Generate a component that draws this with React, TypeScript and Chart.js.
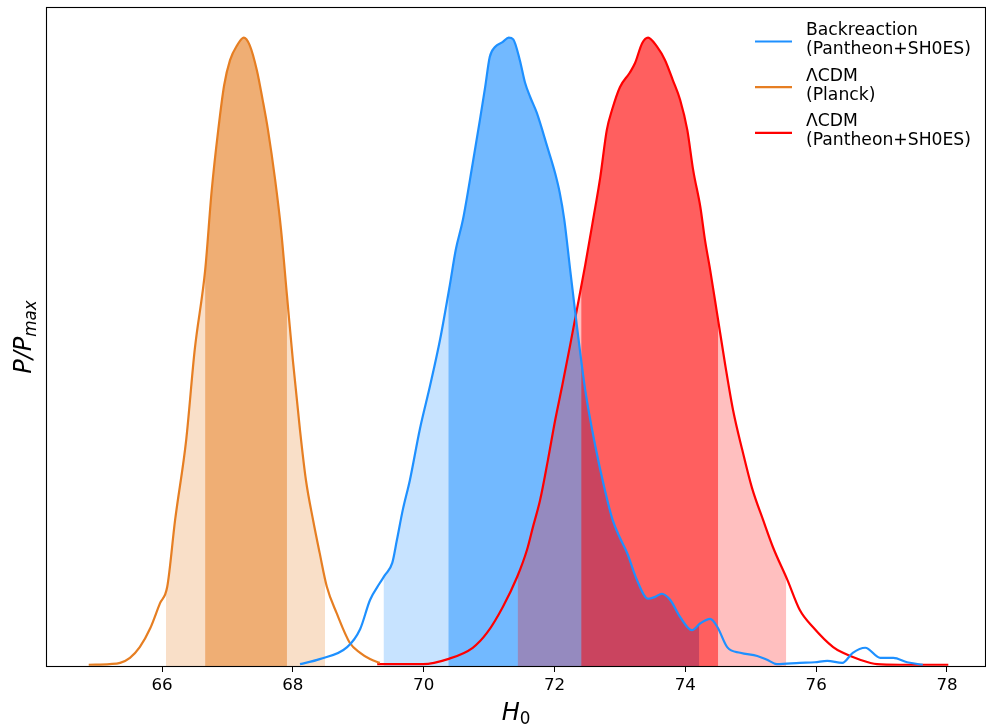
import React, { useEffect, useRef } from 'react';
import { Chart, registerables } from 'chart.js';

Chart.register(...registerables);

// ---------------- data ----------------
const xTicks = [66, 68, 70, 72, 74, 76, 78];
const X_MIN = 64.242;
const X_MAX = 78.581;
const Y_MAX = 1.047;

const orangeX = [64.88, 65.2, 65.36, 65.51, 65.66, 65.82, 65.97, 66.08, 66.2, 66.37, 66.5, 66.66, 66.76, 66.86, 66.95, 67.04, 67.15, 67.25, 67.34, 67.45, 67.54, 67.62, 67.73, 67.82, 67.91, 68.0, 68.11, 68.2, 68.31, 68.41, 68.52, 68.67, 68.87, 69.03, 69.18, 69.33];
const orangeY = [0.002, 0.003, 0.005, 0.013, 0.03, 0.06, 0.1, 0.126, 0.232, 0.36, 0.503, 0.63, 0.757, 0.853, 0.924, 0.964, 0.988, 1.0, 0.988, 0.948, 0.9, 0.853, 0.773, 0.694, 0.59, 0.487, 0.375, 0.296, 0.232, 0.18, 0.126, 0.084, 0.037, 0.021, 0.011, 0.005];

const blueX = [68.11, 68.41, 68.83, 69.03, 69.18, 69.33, 69.41, 69.52, 69.59, 69.68, 69.79, 69.94, 70.1, 70.25, 70.4, 70.49, 70.6, 70.75, 70.86, 70.94, 71.01, 71.09, 71.21, 71.3, 71.37, 71.47, 71.55, 71.63, 71.73, 71.89, 72.01, 72.08, 72.15, 72.24, 72.34, 72.47, 72.62, 72.77, 72.89, 73.0, 73.11, 73.26, 73.43, 73.54, 73.64, 73.77, 73.92, 74.1, 74.23, 74.38, 74.49, 74.64, 74.84, 75.1, 75.25, 75.4, 75.75, 75.98, 76.17, 76.4, 76.56, 76.75, 76.98, 77.18, 77.39, 77.63];
const blueY = [0.003, 0.011, 0.03, 0.059, 0.105, 0.132, 0.145, 0.164, 0.2, 0.248, 0.296, 0.376, 0.447, 0.519, 0.606, 0.662, 0.71, 0.8, 0.869, 0.921, 0.969, 0.985, 0.993, 1.0, 0.997, 0.964, 0.928, 0.905, 0.88, 0.826, 0.784, 0.753, 0.71, 0.63, 0.543, 0.439, 0.352, 0.28, 0.232, 0.204, 0.18, 0.137, 0.107, 0.11, 0.115, 0.105, 0.078, 0.057, 0.068, 0.075, 0.062, 0.03, 0.021, 0.016, 0.01, 0.003, 0.005, 0.006, 0.008, 0.005, 0.021, 0.029, 0.013, 0.013, 0.006, 0.002];

const redX = [69.29, 69.64, 69.99, 70.37, 70.75, 70.97, 71.21, 71.43, 71.58, 71.67, 71.78, 71.9, 72.01, 72.12, 72.24, 72.34, 72.47, 72.59, 72.7, 72.8, 72.88, 73.0, 73.15, 73.23, 73.34, 73.43, 73.57, 73.69, 73.81, 73.92, 74.03, 74.12, 74.23, 74.3, 74.38, 74.49, 74.61, 74.73, 74.87, 75.02, 75.19, 75.34, 75.56, 75.75, 75.95, 76.26, 76.41, 76.67, 76.93, 77.28, 78.02];
const redY = [0.003, 0.003, 0.003, 0.011, 0.029, 0.053, 0.094, 0.142, 0.185, 0.221, 0.264, 0.328, 0.391, 0.447, 0.511, 0.566, 0.638, 0.71, 0.778, 0.853, 0.885, 0.921, 0.944, 0.959, 0.991, 1.0, 0.985, 0.964, 0.932, 0.901, 0.853, 0.789, 0.73, 0.678, 0.63, 0.558, 0.479, 0.407, 0.344, 0.283, 0.232, 0.189, 0.137, 0.089, 0.062, 0.03, 0.021, 0.01, 0.003, 0.002, 0.002];

// shaded intervals: [outer (light), inner (dark)]
const blueOuter = [69.39, 74.21];
const blueInner = [70.38, 74.21];
const orangeOuter = [66.06, 68.49];
const orangeInner = [66.66, 67.91];
const redOuter = [71.44, 75.54];
const redInner = [72.41, 74.5];

const legendLabels = [
  ['Backreaction', '(Pantheon+SH0ES)'],
  ['\u039bCDM', '(Planck)'],
  ['\u039bCDM', '(Pantheon+SH0ES)'],
];
const xTitle = { main: 'H', sub: '0' };
const yTitle = { main: 'P/P', sub: 'max' };

const BLUE = [30, 144, 255];
const ORANGE = [230, 126, 34];
const RED = [255, 0, 0];

const rgba = (c: number[], a: number) => `rgba(${c[0]},${c[1]},${c[2]},${a})`;

function makeDataset(xs: number[], ys: number[], col: number[], outer: number[], inner: number[]) {
  return {
    data: xs.map((x, k) => ({ x, y: ys[k] })),
    borderColor: rgba(col, 1),
    borderWidth: 2.2,
    pointRadius: 0,
    fill: false,
    cubicInterpolationMode: 'monotone',
    bands: [
      { from: outer[0], to: outer[1], color: rgba(col, 0.25) },
      { from: inner[0], to: inner[1], color: rgba(col, 0.5) },
    ],
    legendColor: rgba(col, 1),
  } as any;
}

const FONT = '"DejaVu Sans", sans-serif';

const bandsPlugin = {
  id: 'bands',
  beforeDatasetsDraw(chart: any) {
    const { ctx, chartArea, scales } = chart;
    const xs = scales.x;
    const ys = scales.y;
    const y0 = ys.getPixelForValue(0);
    chart.data.datasets.forEach((ds: any, i: number) => {
      if (!ds.bands) return;
      const meta = chart.getDatasetMeta(i);
      const line = meta.dataset;
      const pts = meta.data;
      if (!pts || !pts.length) return;
      ds.bands.forEach((b: any) => {
        const xa = xs.getPixelForValue(b.from);
        const xb = xs.getPixelForValue(b.to);
        ctx.save();
        ctx.beginPath();
        ctx.rect(xa, chartArea.top, xb - xa, y0 - chartArea.top);
        ctx.clip();
        ctx.beginPath();
        if (line && typeof line.path === 'function') {
          line.path(ctx);
        } else {
          pts.forEach((p: any, k: number) => (k ? ctx.lineTo(p.x, p.y) : ctx.moveTo(p.x, p.y)));
        }
        ctx.lineTo(pts[pts.length - 1].x, y0);
        ctx.lineTo(pts[0].x, y0);
        ctx.closePath();
        ctx.fillStyle = b.color;
        ctx.fill();
        ctx.restore();
      });
    });
  },
};

const decorPlugin = {
  id: 'decor',
  afterDraw(chart: any) {
    const { ctx, chartArea } = chart;
    const { left, right, top, bottom } = chartArea;
    ctx.save();
    // frame
    ctx.strokeStyle = '#000';
    ctx.lineWidth = 1.1;
    ctx.strokeRect(Math.round(left) - 0.5, Math.round(top) - 0.5, Math.round(right - left) + 1, Math.round(bottom - top) + 1);

    // x title
    ctx.fillStyle = '#000';
    ctx.textAlign = 'left';
    ctx.textBaseline = 'alphabetic';
    ctx.font = `italic 24px ${FONT}`;
    const wm = ctx.measureText(xTitle.main).width;
    ctx.font = `16.8px ${FONT}`;
    const ws = ctx.measureText(xTitle.sub).width;
    const cx = (left + right) / 2;
    let x = cx - (wm + ws) / 2;
    ctx.font = `italic 24px ${FONT}`;
    ctx.fillText(xTitle.main, x, 720);
    ctx.font = `16.8px ${FONT}`;
    ctx.fillText(xTitle.sub, x + wm, 724);

    // y title
    ctx.save();
    ctx.translate(31, (top + bottom) / 2);
    ctx.rotate(-Math.PI / 2);
    ctx.font = `italic 24px ${FONT}`;
    const ym = ctx.measureText(yTitle.main).width;
    ctx.font = `italic 16.8px ${FONT}`;
    const ysw = ctx.measureText(yTitle.sub).width;
    x = -(ym + ysw) / 2;
    ctx.font = `italic 24px ${FONT}`;
    ctx.fillText(yTitle.main, x, 0);
    ctx.font = `italic 16.8px ${FONT}`;
    ctx.fillText(yTitle.sub, x + ym, 4.5);
    ctx.restore();

    // legend
    const sx0 = right - 230;
    const sx1 = right - 193;
    const tx = right - 179;
    ctx.font = `17.2px ${FONT}`;
    ctx.textBaseline = 'middle';
    chart.data.datasets.forEach((ds: any, i: number) => {
      const cy = top + 32 + i * 45.7;
      ctx.strokeStyle = ds.legendColor;
      ctx.lineWidth = 2.2;
      ctx.beginPath();
      ctx.moveTo(sx0, cy + 1.5);
      ctx.lineTo(sx1, cy + 1.5);
      ctx.stroke();
      ctx.fillStyle = '#000';
      const lines = legendLabels[i];
      ctx.fillText(lines[0], tx, cy - 9.6);
      ctx.fillText(lines[1], tx, cy + 9.6);
    });
    ctx.restore();
  },
};

export default function App() {
  const ref = useRef<HTMLCanvasElement>(null);
  useEffect(() => {
    if (!ref.current) return;
    const chart = new Chart(ref.current, {
      type: 'line',
      data: {
        datasets: [
          makeDataset(blueX, blueY, BLUE, blueOuter, blueInner),
          makeDataset(orangeX, orangeY, ORANGE, orangeOuter, orangeInner),
          makeDataset(redX, redY, RED, redOuter, redInner),
        ],
      },
      options: {
        animation: false,
        responsive: false,
        maintainAspectRatio: false,
        devicePixelRatio: 1,
        layout: { padding: { top: 8, right: 1, left: 0, bottom: 0 } },
        plugins: { legend: { display: false }, tooltip: { enabled: false } },
        scales: {
          x: {
            type: 'linear',
            min: X_MIN,
            max: X_MAX,
            afterBuildTicks: (s: any) => {
              s.ticks = xTicks.map((v) => ({ value: v }));
            },
            afterFit: (s: any) => {
              s.height = 59;
            },
            ticks: {
              font: { family: 'DejaVu Sans', size: 16.7 },
              color: '#000',
              padding: 4,
              maxRotation: 0,
              autoSkip: false,
              callback: (v: any) => String(v),
            },
            grid: { display: true, drawOnChartArea: false, drawTicks: true, tickLength: 6, color: '#000', lineWidth: 1 },
            border: { display: false },
          },
          y: {
            type: 'linear',
            min: 0,
            max: Y_MAX,
            afterFit: (s: any) => {
              s.width = 47;
            },
            ticks: { display: false },
            grid: { display: false },
            border: { display: false },
          },
        },
      } as any,
      plugins: [bandsPlugin, decorPlugin],
    });
    return () => chart.destroy();
  }, []);
  return (
    <div style={{ position: 'absolute', left: 0, top: 0, width: 986, height: 725, background: '#fff' }}>
      <canvas ref={ref} width={986} height={725} style={{ display: 'block', width: 986, height: 725 }} />
    </div>
  );
}
